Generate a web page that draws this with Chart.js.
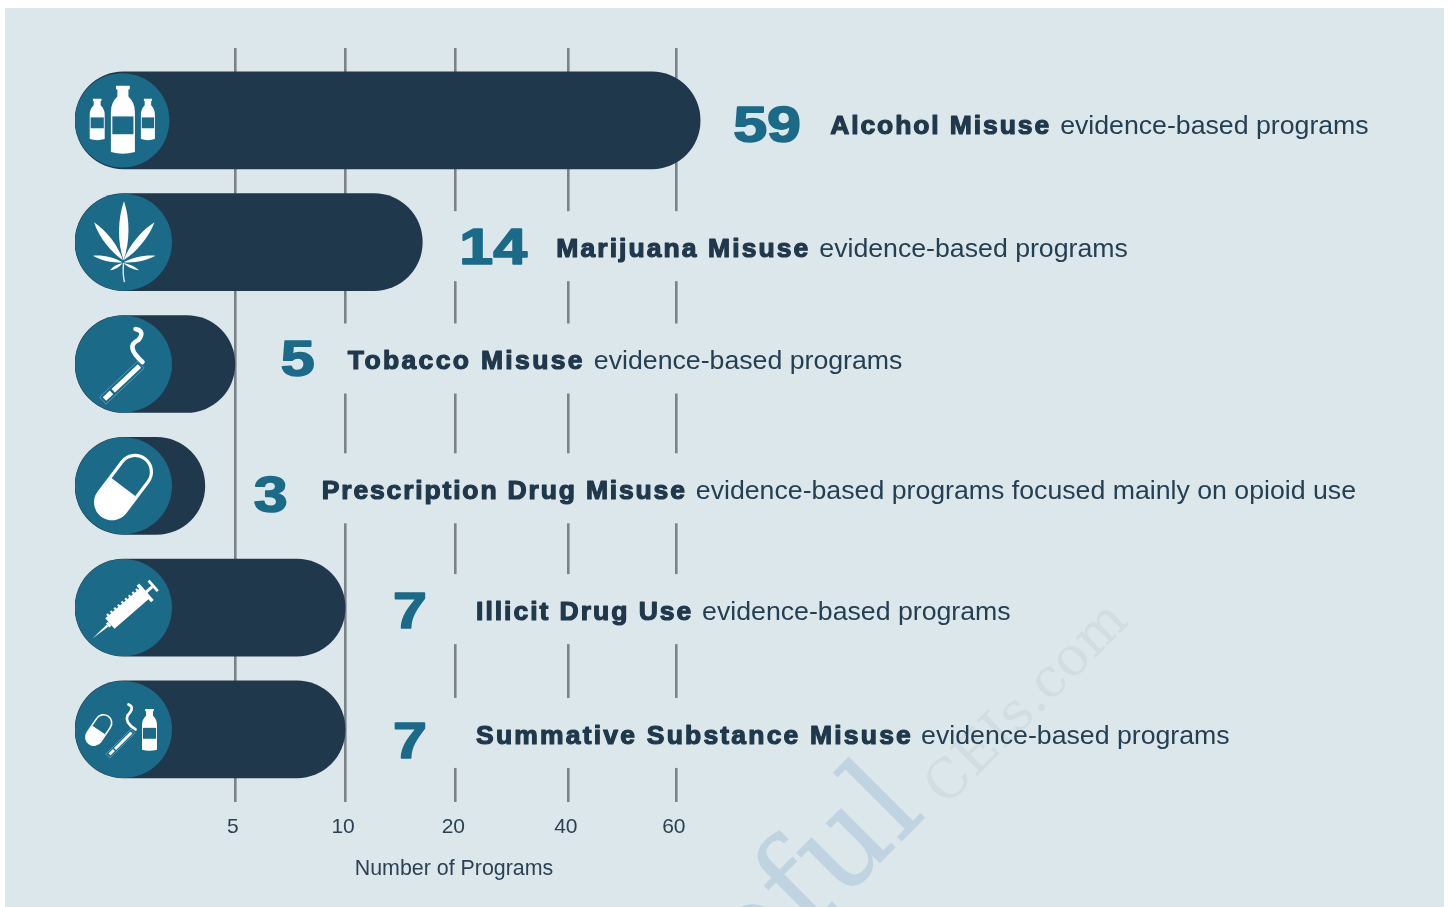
<!DOCTYPE html>
<html>
<head>
<meta charset="utf-8">
<title>Evidence-based programs</title>
<script src="https://cdn.jsdelivr.net/npm/chart.js@4"></script>
<style>
  html, body { margin: 0; background: #fff; }
  canvas { display: block; }
</style>
</head>
<body>
<canvas id="chart" width="1448" height="907"></canvas>
<script>
const categories = ['Alcohol Misuse', 'Marijuana Misuse', 'Tobacco Misuse', 'Prescription Drug Misuse', 'Illicit Drug Use', 'Summative Substance Misuse']
const captionTails = ['evidence-based programs', 'evidence-based programs', 'evidence-based programs', 'evidence-based programs focused mainly on opioid use', 'evidence-based programs', 'evidence-based programs']
const programCounts = [59, 14, 5, 3, 7, 7]
// how far each pill reaches when read against the printed axis (the picture does not scale them to the count)
const barLengths = [64.4, 17, 5, 4.06, 10, 10]
const axisTicks = [5, 10, 20, 40, 60]
const axisStops = [0, 5, 10, 20, 40, 60, 70]
const stopSlots = [-1.45, 0, 1, 2, 3.02, 4, 4.5]

const PANEL = '#dce7ec'
const NAVY = '#20384b'
const TEAL = '#1a6a88'
const AXIS_TEXT = '#2c4254'

// text placement, measured from the end of each pill
const numberGap = [33, 37, 46, 49, 48, 48]
const captionGap = [130, 134, 113, 117, 131, 131]
const numberDrop = [21.5, 21.5, 12.5, 26, 20.5, 28.5]
const captionDrop = [13.5, 15, 5.5, 13.5, 12.5, 14.5]
const nameWidths = [221, 254, 237, 365, 217, 437]
const tailGaps = [230, 263, 246, 374, 226, 445]

// the printed axis spaces its ticks evenly, so it is neither linear nor log
class StopScale extends Chart.LinearScale {
  static id = 'stops'
  buildTicks() {
    return axisTicks.map(value => ({ value }))
  }
  slot(value) {
    for (let i = 1; i < axisStops.length; i++) {
      if (value <= axisStops[i]) {
        const t = (value - axisStops[i - 1]) / (axisStops[i] - axisStops[i - 1])
        return stopSlots[i - 1] + t * (stopSlots[i] - stopSlots[i - 1])
      }
    }
    return stopSlots[stopSlots.length - 1]
  }
  getPixelForValue(value) {
    const first = stopSlots[0]
    const last = stopSlots[stopSlots.length - 1]
    return this.getPixelForDecimal((this.slot(value) - first) / (last - first))
  }
}
Chart.register(StopScale)

function bottle(ctx, cx, top, bottom, w) {
  const h = bottom - top
  const neck = w * 0.23
  ctx.fillStyle = '#fff'
  ctx.beginPath()
  ctx.moveTo(cx - neck * 1.25, top)
  ctx.lineTo(cx + neck * 1.25, top)
  ctx.lineTo(cx + neck * 1.25, top + h * 0.05)
  ctx.lineTo(cx + neck, top + h * 0.06)
  ctx.lineTo(cx + neck, top + h * 0.16)
  ctx.quadraticCurveTo(cx + w / 2, top + h * 0.25, cx + w / 2, top + h * 0.38)
  ctx.lineTo(cx + w / 2, bottom - h * 0.03)
  ctx.quadraticCurveTo(cx, bottom + h * 0.02, cx - w / 2, bottom - h * 0.03)
  ctx.lineTo(cx - w / 2, top + h * 0.38)
  ctx.quadraticCurveTo(cx - w / 2, top + h * 0.25, cx - neck, top + h * 0.16)
  ctx.lineTo(cx - neck, top + h * 0.06)
  ctx.lineTo(cx - neck * 1.25, top + h * 0.05)
  ctx.closePath()
  ctx.fill()
  ctx.fillStyle = TEAL
  ctx.fillRect(cx - w * 0.44, top + h * 0.45, w * 0.88, h * 0.26)
}

function leaf(ctx, bx, by, tx, ty, w) {
  const dx = tx - bx, dy = ty - by
  const len = Math.hypot(dx, dy)
  const nx = -dy / len * w, ny = dx / len * w
  ctx.beginPath()
  ctx.moveTo(bx, by)
  ctx.bezierCurveTo(bx + dx * 0.3 + nx, by + dy * 0.3 + ny, bx + dx * 0.7 + nx, by + dy * 0.7 + ny, tx, ty)
  ctx.bezierCurveTo(bx + dx * 0.7 - nx, by + dy * 0.7 - ny, bx + dx * 0.3 - nx, by + dy * 0.3 - ny, bx, by)
  ctx.fill()
}

function cigarette(ctx, x1, y1, x2, y2, w, smoke) {
  const dx = x2 - x1, dy = y2 - y1
  ctx.strokeStyle = '#fff'
  ctx.lineCap = 'butt'
  ctx.lineWidth = w
  ctx.beginPath()
  ctx.moveTo(x1, y1)
  ctx.lineTo(x1 + dx * 0.2, y1 + dy * 0.2)
  ctx.moveTo(x1 + dx * 0.25, y1 + dy * 0.25)
  ctx.lineTo(x2, y2)
  ctx.stroke()
  ctx.lineJoin = 'round'
  ctx.lineCap = 'round'
  ctx.lineWidth = w * 0.9
  ctx.beginPath()
  ctx.moveTo(smoke[0], smoke[1])
  ctx.quadraticCurveTo(smoke[2], smoke[3], smoke[4], smoke[5])
  ctx.quadraticCurveTo(smoke[6], smoke[7], smoke[8], smoke[9])
  ctx.stroke()
  // thin sleeve round the cigarette
  const len = Math.hypot(dx, dy)
  ctx.save()
  ctx.translate(x1, y1)
  ctx.rotate(Math.atan2(dy, dx))
  ctx.strokeStyle = 'rgba(255,255,255,0.35)'
  ctx.lineWidth = 0.8
  ctx.strokeRect(-2, -w * 0.95, len + 4, w * 1.9)
  ctx.restore()
}

function pill(ctx, x1, y1, x2, y2, r, line) {
  const a = Math.atan2(y2 - y1, x2 - x1)
  const len = Math.hypot(x2 - x1, y2 - y1)
  ctx.save()
  ctx.translate(x1, y1)
  ctx.rotate(a)
  ctx.fillStyle = '#fff'
  ctx.beginPath()
  ctx.arc(0, 0, r, Math.PI / 2, Math.PI * 1.5)
  ctx.lineTo(len * 0.5, -r)
  ctx.lineTo(len * 0.5, r)
  ctx.closePath()
  ctx.fill()
  ctx.strokeStyle = '#fff'
  ctx.lineWidth = line
  ctx.beginPath()
  ctx.arc(len, 0, r - line / 2, -Math.PI / 2, Math.PI / 2)
  ctx.lineTo(len * 0.5, r - line / 2)
  ctx.moveTo(len * 0.5, -r + line / 2)
  ctx.lineTo(len, -r + line / 2)
  ctx.stroke()
  ctx.restore()
}

function syringe(ctx) {
  ctx.save()
  ctx.translate(-31, 31)
  ctx.rotate(-41 * Math.PI / 180)
  ctx.fillStyle = '#fff'
  ctx.beginPath()
  ctx.moveTo(0, 0)
  ctx.lineTo(20, -1.3)
  ctx.lineTo(20, 1.3)
  ctx.closePath()
  ctx.fill()
  ctx.fillRect(20, -2.5, 3, 5)
  ctx.fillRect(23, -7, 47, 14)
  for (let i = 0; i < 9; i++) ctx.fillRect(26 + i * 4.8, -9, 2.2, 3)
  ctx.fillRect(68, -11, 3.5, 22)
  ctx.fillRect(71, -1.5, 8, 3)
  ctx.fillRect(79, -7, 2.8, 14)
  ctx.restore()
}

const iconDrawers = [
  (ctx) => {
    bottle(ctx, 0.7, -34.7, 33.7, 24)
    bottle(ctx, -25, -21.7, 20, 15)
    bottle(ctx, 25.7, -21.7, 20, 14)
  },
  (ctx) => {
    ctx.fillStyle = '#fff'
    leaf(ctx, 0, 18, 0.5, -41, 6.3)
    leaf(ctx, -0.5, 18, -29.5, -20, 5)
    leaf(ctx, 0, 18, 31, -20, 5)
    leaf(ctx, -1, 20, -30.5, 13.5, 3)
    leaf(ctx, 0, 20, 32, 13.5, 3)
    leaf(ctx, -1, 21, -13.5, 28, 1.8)
    leaf(ctx, 0, 21, 15.5, 28, 1.8)
    ctx.strokeStyle = '#e4edf1'
    ctx.lineWidth = 1.4
    ctx.beginPath()
    ctx.moveTo(0, 21)
    ctx.quadraticCurveTo(-1, 32, 1, 40)
    ctx.stroke()
  },
  (ctx) => {
    cigarette(ctx, -19, 35, 16, 2, 5, [12, -35, 22, -33, 15, -24, 1, -18, 19, -2])
  },
  (ctx) => {
    pill(ctx, -11.5, 16.5, 11.5, -14, 18, 3.2)
  },
  (ctx) => {
    syringe(ctx)
  },
  (ctx) => {
    pill(ctx, -29.5, 7.5, -20, -6.5, 9, 1.6)
    cigarette(ctx, -14, 25, 8, 3, 3, [5, -25, 12, -22, 4, -14, 1, -7, 12, 0])
    bottle(ctx, 26, -20.5, 21.5, 15)
  }
]

const backdrop = {
  id: 'backdrop',
  beforeDraw(chart) {
    const ctx = chart.ctx
    ctx.save()
    ctx.fillStyle = PANEL
    ctx.fillRect(5, 8, 1439, 899)
    ctx.restore()
  },
  // blanks the grid behind each caption row, then lays the watermark on top
  beforeDatasetsDraw(chart) {
    const ctx = chart.ctx
    const x = chart.scales.x, y = chart.scales.y
    ctx.save()
    ctx.fillStyle = PANEL
    barLengths.forEach((len, i) => {
      const left = Math.max(x.getPixelForValue(len), x.getPixelForValue(axisTicks[0])) + 5
      const top = y.getPixelForValue(i) + captionDrop[i] - 46
      ctx.fillRect(left, top, 1440 - left, 70)
    })
    ctx.beginPath()
    ctx.rect(5, 8, 1439, 899)
    ctx.clip()
    ctx.textAlign = 'right'
    ctx.textBaseline = 'alphabetic'
    ctx.translate(928, 815)
    ctx.rotate(-Math.PI / 4)
    ctx.fillStyle = '#bfd3e0'
    ctx.font = '128px "DejaVu Serif"'
    ctx.fillText('Helpful', 0, 0)
    ctx.textAlign = 'left'
    ctx.fillStyle = '#d0dde3'
    ctx.font = '54px "DejaVu Serif"'
    ctx.fillText('CEIs.com', 18, 7)
    ctx.restore()
  },
  afterDatasetsDraw(chart) {
    const ctx = chart.ctx
    const x = chart.scales.x, y = chart.scales.y
    categories.forEach((name, i) => {
      const r = i === 0 ? 47.2 : 48.5
      const cx = x.getPixelForValue(0) + r
      const cy = y.getPixelForValue(i)
      ctx.save()
      ctx.fillStyle = TEAL
      ctx.beginPath()
      ctx.arc(cx, cy, r, 0, Math.PI * 2)
      ctx.fill()
      ctx.translate(cx, cy)
      iconDrawers[i](ctx)
      ctx.restore()

      const end = x.getPixelForValue(barLengths[i])
      ctx.save()
      ctx.textAlign = 'left'
      ctx.textBaseline = 'alphabetic'
      // the big count
      ctx.save()
      ctx.translate(end + numberGap[i], cy + numberDrop[i])
      ctx.scale(1.22, 1)
      ctx.font = 'bold 50px "Liberation Sans"'
      ctx.fillStyle = TEAL
      ctx.strokeStyle = TEAL
      ctx.lineWidth = 1.6
      ctx.lineJoin = 'round'
      ctx.fillText(String(programCounts[i]), 0, 0)
      ctx.strokeText(String(programCounts[i]), 0, 0)
      ctx.restore()
      // caption: heavy name, then the plain tail
      const left = end + captionGap[i]
      const base = cy + captionDrop[i]
      ctx.font = 'bold 26.5px "Liberation Sans"'
      ctx.letterSpacing = '0px'
      const spare = nameWidths[i] - ctx.measureText(name).width
      ctx.letterSpacing = (spare / name.length).toFixed(2) + 'px'
      ctx.fillStyle = NAVY
      ctx.strokeStyle = NAVY
      ctx.lineWidth = 1.2
      ctx.lineJoin = 'round'
      ctx.fillText(name, left, base)
      ctx.strokeText(name, left, base)
      ctx.letterSpacing = '0px'
      ctx.font = '26.7px "Liberation Sans"'
      ctx.fillStyle = '#253f52'
      ctx.fillText(captionTails[i], left + tailGaps[i], base)
      ctx.restore()
    })
    ctx.save()
    ctx.fillStyle = AXIS_TEXT
    ctx.font = '21.4px "Liberation Sans"'
    ctx.textAlign = 'center'
    ctx.fillText('Number of Programs', 454, 875)
    ctx.restore()
  }
}

new Chart(document.getElementById('chart'), {
  type: 'bar',
  data: {
    labels: categories,
    datasets: [{
      data: barLengths.map((value, i) => ({ x: value, y: i })),
      backgroundColor: NAVY,
      borderWidth: 0,
      borderRadius: 48.5,
      borderSkipped: false,
      barThickness: 97
    }]
  },
  options: {
    indexAxis: 'y',
    responsive: false,
    animation: false,
    events: [],
    layout: { padding: { left: 75, right: 717, top: 48, bottom: 54 } },
    plugins: { legend: { display: false }, title: { display: false }, tooltip: { enabled: false } },
    scales: {
      x: {
        type: 'stops',
        min: 0,
        max: 70,
        offset: false,
        border: { display: false },
        grid: { color: '#7b8387', lineWidth: 2.6, drawTicks: false },
        ticks: {
          color: AXIS_TEXT,
          font: { family: '"Liberation Sans"', size: 21 },
          padding: 13,
          maxRotation: 0,
          autoSkip: false,
          labelOffset: -2,
          callback: value => value
        }
      },
      y: {
        type: 'linear',
        display: false,
        reverse: true,
        offset: false,
        min: -0.594,
        max: 5.594
      }
    }
  },
  plugins: [backdrop]
})
</script>
</body>
</html>
